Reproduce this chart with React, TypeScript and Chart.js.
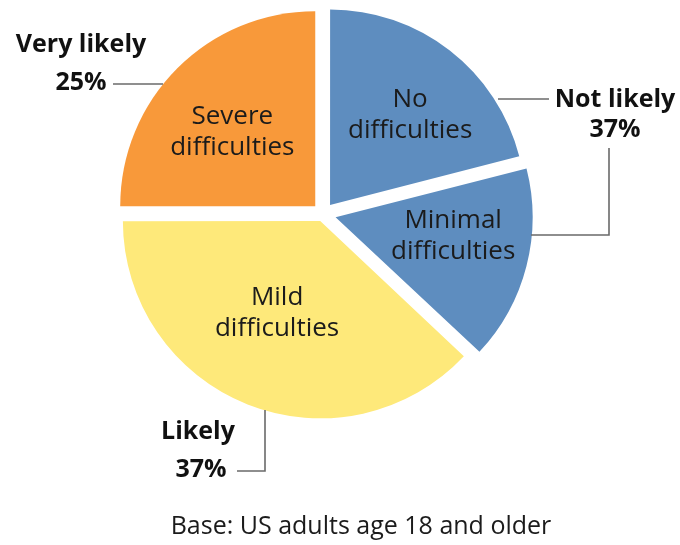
import React, { useEffect, useRef } from "react";
import { Chart, registerables } from "chart.js";

Chart.register(...registerables);

// Data
const categories = ["No difficulties", "Minimal difficulties", "Mild difficulties", "Severe difficulties"];
const sliceLines = [["No", "difficulties"], ["Minimal", "difficulties"], ["Mild", "difficulties"], ["Severe", "difficulties"]];
const values = [21, 16, 38, 25];
const groupNames = ["Not likely", "Likely", "Very likely"];
const groupPercents = ["37%", "37%", "25%"];
const footerText = "Base: US adults age 18 and older";

// Styles
const colors = ["#5E8DBF", "#5E8DBF", "#FEE97A", "#F8993A"];
// Chart.js applies offset/4 (plus a small size-dependent extra); these give ~12/15/10/11 px shifts
const offsets = [46, 52, 30, 44];
const labelDist = [132, 132, 109, 122];
const labelShiftDeg = [3.5, -4.8, 3.3, -3];
const FONT = "'Open Sans', 'Noto Sans', sans-serif";

const labelsPlugin = {
  id: "customLabels",
  afterDraw(chart: any) {
    const ctx = chart.ctx;
    const meta = chart.getDatasetMeta(0);
    ctx.save();
    ctx.fillStyle = "#1b1b1b";
    ctx.textAlign = "center";
    ctx.textBaseline = "middle";
    ctx.font = `26px ${FONT}`;
    meta.data.forEach((el: any, i: number) => {
      const { x, y, startAngle, endAngle } = el.getProps(["x", "y", "startAngle", "endAngle"], true);
      const mid = (startAngle + endAngle) / 2 + (labelShiftDeg[i] * Math.PI) / 180;
      const cx = x + Math.cos(mid) * labelDist[i];
      const cy = y + Math.sin(mid) * labelDist[i];
      const lines = sliceLines[i];
      const lh = 31;
      lines.forEach((t, j) => {
        ctx.fillText(t, cx, cy + (j - (lines.length - 1) / 2) * lh);
      });
    });

    // leader lines
    ctx.strokeStyle = "#6a6a6a";
    ctx.lineWidth = 1.6;
    const seg = (pts: number[][]) => {
      ctx.beginPath();
      ctx.moveTo(pts[0][0], pts[0][1]);
      for (let k = 1; k < pts.length; k++) ctx.lineTo(pts[k][0], pts[k][1]);
      ctx.stroke();
    };
    seg([[113, 84], [163, 84]]);
    seg([[498, 99], [549, 99]]);
    seg([[531, 235], [609, 235], [609, 148]]);
    seg([[237, 471], [265, 471], [265, 410]]);

    // group labels
    ctx.fillStyle = "#111";
    ctx.font = `bold 25px ${FONT}`;
    ctx.fillText(groupNames[2], 81, 45);
    ctx.fillText(groupPercents[2], 81, 83);
    ctx.fillText(groupNames[0], 615, 100);
    ctx.fillText(groupPercents[0], 615, 130);
    ctx.fillText(groupNames[1], 198, 432);
    ctx.fillText(groupPercents[1], 201, 470);

    // footer
    ctx.fillStyle = "#1b1b1b";
    ctx.font = `25px ${FONT}`;
    ctx.fillText(footerText, 361, 527);
    ctx.restore();
  },
};

export default function App() {
  const ref = useRef<HTMLCanvasElement | null>(null);
  useEffect(() => {
    if (!ref.current) return;
    const chart = new Chart(ref.current, {
      type: "pie",
      data: {
        labels: categories,
        datasets: [
          {
            data: values,
            backgroundColor: colors,
            borderWidth: 0,
            offset: offsets,
            hoverOffset: 0,
          },
        ],
      },
      options: {
        responsive: false,
        animation: false,
        radius: 195,
        layout: { padding: { left: 0, top: 0, right: 34, bottom: 117 } },
        plugins: { legend: { display: false }, tooltip: { enabled: false } },
        events: [],
      } as any,
      plugins: [labelsPlugin],
    });
    return () => chart.destroy();
  }, []);
  return (
    <div style={{ position: "fixed", left: 0, top: 0, width: 680, height: 545, background: "#fff" }}>
      <canvas ref={ref} width={680} height={545} style={{ width: 680, height: 545, display: "block" }} />
    </div>
  );
}
